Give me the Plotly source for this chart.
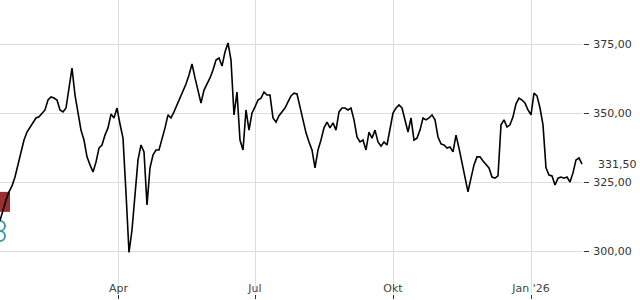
import pandas as pd
import plotly.graph_objects as go

# Price series, one reading every second calendar day from 2025-01-12
start_date = "2025-01-12"
prices = [
    311.0, 314.9, 318.5, 321.4, 323.6, 326.8, 331.2, 335.9, 340.2, 343.1,
    344.9, 346.7, 348.2, 348.6, 350.0, 351.1, 354.7, 355.8, 355.4, 354.7,
    351.1, 350.4, 351.8, 359.1, 366.3, 356.5, 349.3, 343.8, 340.2, 334.1,
    331.2, 328.6, 332.2, 337.3, 338.4, 342.0, 344.6, 349.6, 348.2, 351.8,
    346.0, 340.9, 321.0, 299.5, 307.6, 320.3, 333.0, 338.4, 335.9, 316.7,
    330.1, 334.8, 336.6, 336.6, 340.2, 344.6, 349.3, 348.2, 350.4, 352.9,
    355.4, 358.3, 360.5, 363.8, 367.8, 362.7, 357.6, 353.6, 358.3, 360.5,
    362.7, 365.6, 369.2, 369.9, 367.0, 372.1, 375.4, 369.2, 349.3, 357.6,
    340.2, 336.6, 351.1, 343.8, 350.0, 352.2, 354.7, 355.4, 357.6, 356.5,
    356.5, 348.2, 346.7, 349.0, 350.4, 351.8, 354.0, 356.2, 357.2, 356.9,
    352.2, 347.5, 342.8, 339.5, 336.6, 330.1, 336.6, 340.2, 344.6, 346.7,
    344.6, 346.4, 343.8, 350.4, 351.8, 351.8, 351.1, 351.8, 347.5, 341.3,
    339.5, 340.2, 336.6, 343.1, 340.9, 343.8, 339.5, 338.0, 339.5, 338.4,
    343.8, 350.0, 351.8, 352.9, 351.8, 347.5, 343.1, 348.2, 340.2, 340.9,
    343.8, 348.2, 347.5, 348.2, 349.3, 347.5, 341.3, 338.8, 338.4, 337.3,
    337.7, 335.9, 342.0, 337.3, 331.9, 326.4, 321.4, 326.4, 331.2, 334.1,
    334.1, 332.6, 331.2, 330.1, 326.8, 326.4, 327.2, 345.7, 347.5, 344.9,
    345.7, 348.6, 353.3, 355.4, 354.7, 353.6, 351.1, 349.3, 357.2, 356.2,
    351.8, 345.7, 330.1, 327.5, 327.2, 323.9, 326.4, 326.8, 326.4, 326.8,
    325.0, 328.3, 333.0, 333.7, 331.5,
]

# Axis ticks
x_tick_dates = ["2025-04-01", "2025-07-01", "2025-10-01", "2026-01-01"]
x_tick_labels = ["Apr", "Jul", "Okt", "Jan '26"]
y_tick_values = [300, 325, 350, 375]
y_tick_labels = ["300,00", "325,00", "350,00", "375,00"]

# Event markers at the start of the series
event_flag_price = [317.8]
event_circle_prices = [309.1, 305.4]

x_range = ["2025-01-12", "2026-02-04 16:00"]
y_range = [284.42, 390.94]

dates = pd.date_range(start_date, periods=len(prices), freq="2D")

fig = go.Figure()
fig.add_trace(go.Scatter(
    x=[dates[0]] * len(event_flag_price), y=event_flag_price, mode="markers",
    marker=dict(symbol="square", size=20, color="#9b2f2f"),
    hoverinfo="skip", showlegend=False,
))
fig.add_trace(go.Scatter(
    x=[dates[0]] * len(event_circle_prices), y=event_circle_prices, mode="markers",
    marker=dict(symbol="circle-open", size=10, color="#3f9aa8",
                line=dict(width=2, color="#3f9aa8")),
    hoverinfo="skip", showlegend=False,
))
fig.add_trace(go.Scatter(
    x=dates, y=prices, mode="lines",
    line=dict(color="#000000", width=1.6),
    showlegend=False,
))

last_price = prices[-1]
fig.add_annotation(
    xref="paper", yref="y", x=1, y=last_price,
    text=f"{last_price:.2f}".replace(".", ","),
    showarrow=False, xanchor="left", xshift=13,
    font=dict(family="DejaVu Sans", size=11, color="#333333"),
)

fig.update_layout(
    width=640, height=300,
    margin=dict(l=0, r=57, t=0, b=6),
    paper_bgcolor="white", plot_bgcolor="white",
    font=dict(family="DejaVu Sans", size=11, color="#333333"),
    showlegend=False,
)
fig.update_xaxes(
    type="date", range=x_range,
    tickvals=x_tick_dates, ticktext=x_tick_labels,
    showgrid=True, gridcolor="#dcdcdc", gridwidth=1,
    ticks="outside", ticklen=4, tickcolor="#333333",
    ticklabelposition="inside", ticklabelstandoff=-3,
    zeroline=False, showline=False,
)
fig.update_yaxes(
    side="right", range=y_range,
    tickvals=y_tick_values, ticktext=y_tick_labels,
    showgrid=True, gridcolor="#dcdcdc", gridwidth=1,
    ticks="outside", ticklen=5, tickcolor="#333333",
    ticklabelstandoff=2,
    zeroline=False, showline=False,
)

fig.write_html("out.html")
